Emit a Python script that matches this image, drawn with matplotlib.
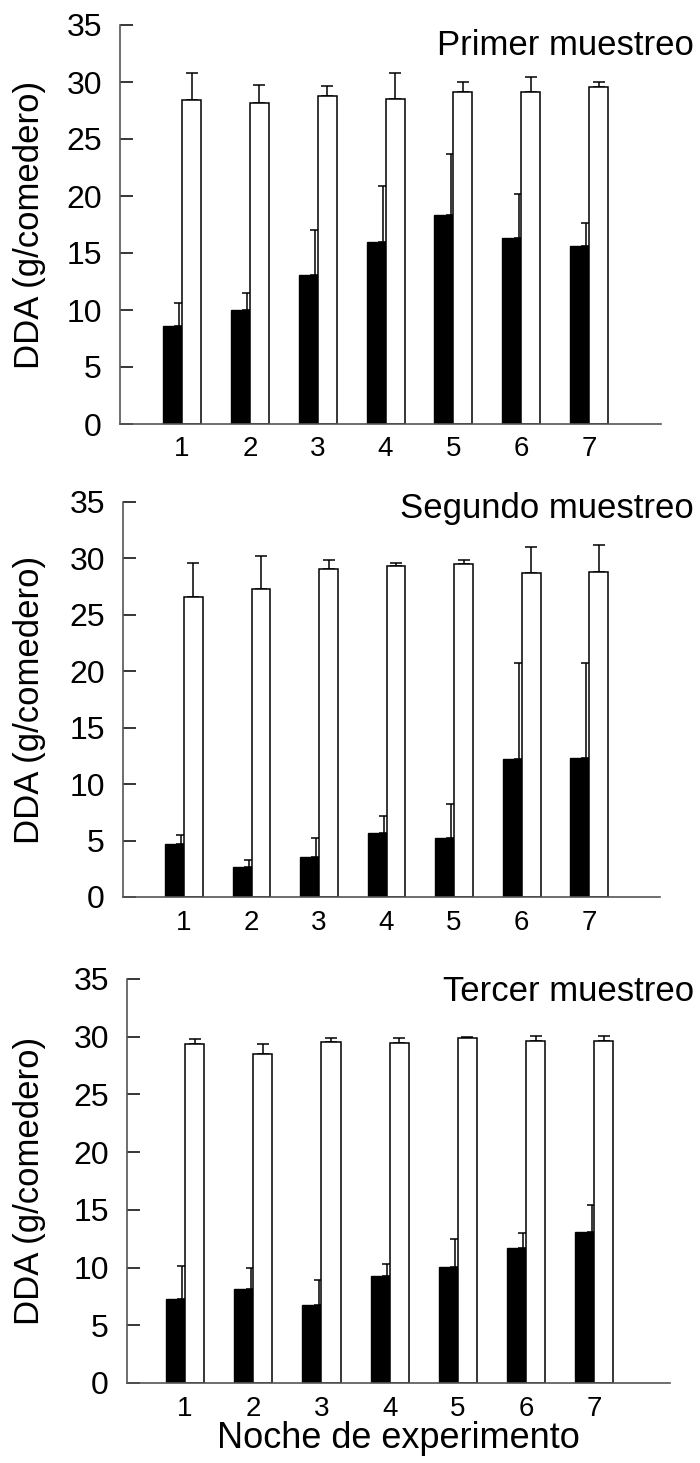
import matplotlib
matplotlib.use("Agg")
import matplotlib.pyplot as plt
import numpy as np

plt.rcParams['font.family'] = ['Liberation Sans', 'DejaVu Sans']

DPI = 100

nights = [1, 2, 3, 4, 5, 6, 7]
titles = ["Primer muestreo", "Segundo muestreo", "Tercer muestreo"]

# black bars (mean) and upper error
black_1 = [8.6, 10.0, 13.1, 16.0, 18.3, 16.3, 15.6]
black_1_err = [2.0, 1.5, 3.9, 4.9, 5.4, 3.9, 2.0]
white_1 = [28.4, 28.2, 28.75, 28.5, 29.1, 29.1, 29.6]
white_1_err = [2.4, 1.5, 0.9, 2.3, 0.9, 1.3, 0.4]

black_2 = [4.67, 2.66, 3.57, 5.67, 5.2, 12.2, 12.3]
black_2_err = [0.8, 0.65, 1.65, 1.55, 3.0, 8.55, 8.45]
white_2 = [26.6, 27.3, 29.1, 29.3, 29.5, 28.7, 28.8]
white_2_err = [3.0, 2.9, 0.8, 0.3, 0.4, 2.3, 2.4]

black_3 = [7.27, 8.13, 6.8, 9.3, 10.03, 11.67, 13.05]
black_3_err = [2.85, 1.85, 2.15, 1.05, 2.45, 1.3, 2.4]
white_3 = [29.39, 28.5, 29.54, 29.45, 29.89, 29.66, 29.66]
white_3_err = [0.45, 0.85, 0.35, 0.45, 0.05, 0.4, 0.4]

panels = [
    (black_1, black_1_err, white_1, white_1_err),
    (black_2, black_2_err, white_2, white_2_err),
    (black_3, black_3_err, white_3, white_3_err),
]

# axes boxes in pixels: left, right, top, bottom ; xlim ; title baseline
boxes = [(120, 661, 25, 424), (123, 660, 502, 897), (127, 670, 979, 1383)]
xlims = [(0.086, 8.06), (0.096, 8.05), (0.149, 8.11)]
title_y = [55, 518, 1001]

W, H = 700, 1463
fig = plt.figure(figsize=(W / DPI, H / DPI), dpi=DPI)

bw = 0.28
x = np.array(nights, dtype=float)

for i, (blk, blk_e, wht, wht_e) in enumerate(panels):
    l, r, t, b = boxes[i]
    ax = fig.add_axes([l / W, 1 - b / H, (r - l) / W, (b - t) / H])
    ax.bar(x - bw / 2, blk, bw, color='black', edgecolor='black', linewidth=1, zorder=2)
    ax.bar(x + bw / 2, wht, bw, color='white', edgecolor='black', linewidth=1.1, zorder=2)
    # error bars of the dark bars sit near their right edge
    ax.errorbar(x - bw * 0.14, blk, yerr=[np.zeros(7), blk_e], fmt='none',
                ecolor='black', elinewidth=1.1, capsize=3.5, capthick=1.1, zorder=1)
    ax.errorbar(x + bw / 2, wht, yerr=[np.zeros(7), wht_e], fmt='none',
                ecolor='black', elinewidth=1.1, capsize=4, capthick=1.1, zorder=1)

    ax.set_xlim(*xlims[i])
    ax.set_ylim(0, 35)
    ax.set_yticks(range(0, 36, 5))
    ax.set_xticks(nights)
    ax.spines['top'].set_visible(False)
    ax.spines['right'].set_visible(False)
    ax.spines['left'].set_color('#555555')
    ax.spines['bottom'].set_color('#555555')
    ax.spines['left'].set_linewidth(1.2)
    ax.spines['bottom'].set_linewidth(1.2)
    ax.tick_params(axis='y', direction='in', length=9.5, width=1.1, color='black',
                   labelsize=23, pad=13)
    ax.tick_params(axis='x', length=0, labelsize=20, pad=9)

    fig.text(30 / W, 1 - ((t + b) / 2) / H, "DDA (g/comedero)", rotation=90,
             ha='center', va='center', fontsize=25)
    fig.text(694 / W, 1 - title_y[i] / H, titles[i], ha='right', va='baseline',
             fontsize=25)

l, r, t, b = boxes[2]
fig.text(((l + r) / 2) / W, 1 - 1448 / H, "Noche de experimento", ha='center',
         va='baseline', fontsize=26)

fig.savefig("out.png", dpi=DPI)
